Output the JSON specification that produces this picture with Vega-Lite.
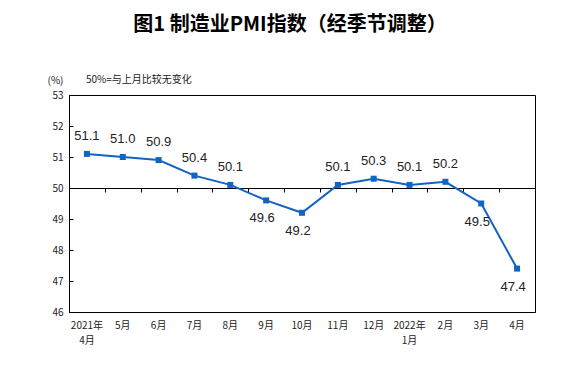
{
  "$schema": "https://vega.github.io/schema/vega-lite/v6.json",
  "width": 466,
  "height": 217,
  "autosize": {"type": "none"},
  "padding": {"left": 69, "top": 95, "right": 41, "bottom": 56},
  "background": "white",
  "title": {
    "text": "图1 制造业PMI指数（经季节调整）",
    "font": "Noto Sans CJK SC",
    "fontSize": 20,
    "fontWeight": "bold",
    "color": "#000",
    "anchor": "middle",
    "dx": -12,
    "offset": 40
  },
  "config": {
    "view": {"stroke": "#000", "strokeWidth": 1},
    "axis": {"grid": false}
  },
  "data": {
    "values": [
      {"month": "2021年|4月", "v": 51.1},
      {"month": "5月", "v": 51.0},
      {"month": "6月", "v": 50.9},
      {"month": "7月", "v": 50.4},
      {"month": "8月", "v": 50.1},
      {"month": "9月", "v": 49.6},
      {"month": "10月", "v": 49.2},
      {"month": "11月", "v": 50.1},
      {"month": "12月", "v": 50.3},
      {"month": "2022年|1月", "v": 50.1},
      {"month": "2月", "v": 50.2},
      {"month": "3月", "v": 49.5},
      {"month": "4月", "v": 47.4}
    ]
  },
  "encoding": {
    "x": {
      "field": "month",
      "type": "ordinal",
      "sort": null,
      "scale": {"type": "band", "paddingInner": 0, "paddingOuter": 0},
      "axis": null
    },
    "y": {
      "field": "v",
      "type": "quantitative",
      "scale": {"domain": [46, 53], "nice": false, "zero": false},
      "axis": {
        "values": [46, 47, 48, 49, 50, 51, 52, 53],
        "title": "(%)",
        "titleAngle": 0,
        "titleFont": "Noto Sans CJK SC",
        "titleFontSize": 10,
        "titleFontWeight": "normal",
        "titleColor": "#222",
        "titleX": -14,
        "titleY": -15,
        "titleAlign": "center",
        "titleBaseline": "middle",
        "labelFont": "Noto Sans CJK SC",
        "labelFontSize": 10,
        "labelColor": "#222",
        "labelPadding": 10,
        "tickSize": -4,
        "tickColor": "#000",
        "domainColor": "#000"
      }
    }
  },
  "layer": [
    {
      "mark": {"type": "point", "opacity": 0},
      "encoding": {
        "x": {
          "field": "month",
          "type": "ordinal",
          "sort": null,
          "axis": {
            "orient": "bottom",
            "offset": -124,
            "labels": false,
            "title": null,
            "tickBand": "extent",
            "tickSize": 4,
            "tickColor": "#000",
            "domainColor": "#000"
          }
        }
      }
    },
    {
      "mark": {"type": "line", "color": "#1164C2", "strokeWidth": 2},
      "encoding": {
        "x": {
          "field": "month",
          "type": "ordinal",
          "sort": null,
          "axis": {
            "orient": "bottom",
            "title": null,
            "labelAngle": 0,
            "labelExpr": "split(datum.value, '|')",
            "labelFont": "Noto Sans CJK SC",
            "labelFontSize": 10,
            "labelColor": "#222",
            "labelPadding": 8,
            "labelLineHeight": 15,
            "ticks": false,
            "domainColor": "#000"
          }
        }
      }
    },
    {
      "mark": {"type": "square", "color": "#1164C2", "size": 36, "opacity": 1, "filled": true}
    },
    {
      "transform": [{"filter": "datum.v >= 50"}],
      "mark": {"type": "text", "font": "Liberation Sans", "fontSize": 13, "color": "#222", "baseline": "middle", "dy": -18},
      "encoding": {"text": {"field": "v", "type": "quantitative", "format": ".1f"}}
    },
    {
      "transform": [{"filter": "datum.v < 50"}],
      "mark": {"type": "text", "font": "Liberation Sans", "fontSize": 13, "color": "#222", "baseline": "middle", "dy": 18, "dx": -4},
      "encoding": {"text": {"field": "v", "type": "quantitative", "format": ".1f"}}
    },
    {
      "data": {"values": [{"month": "2021年|4月", "y": 53, "note": "50%=与上月比较无变化"}]},
      "mark": {"type": "text", "font": "Noto Sans CJK SC", "fontSize": 10, "color": "#222", "align": "left", "baseline": "middle", "dx": -1, "dy": -15},
      "encoding": {
        "x": {"field": "month", "type": "ordinal", "axis": null},
        "y": {"field": "y", "type": "quantitative"},
        "text": {"field": "note"}
      }
    }
  ],
  "resolve": {"axis": {"x": "independent"}}
}
